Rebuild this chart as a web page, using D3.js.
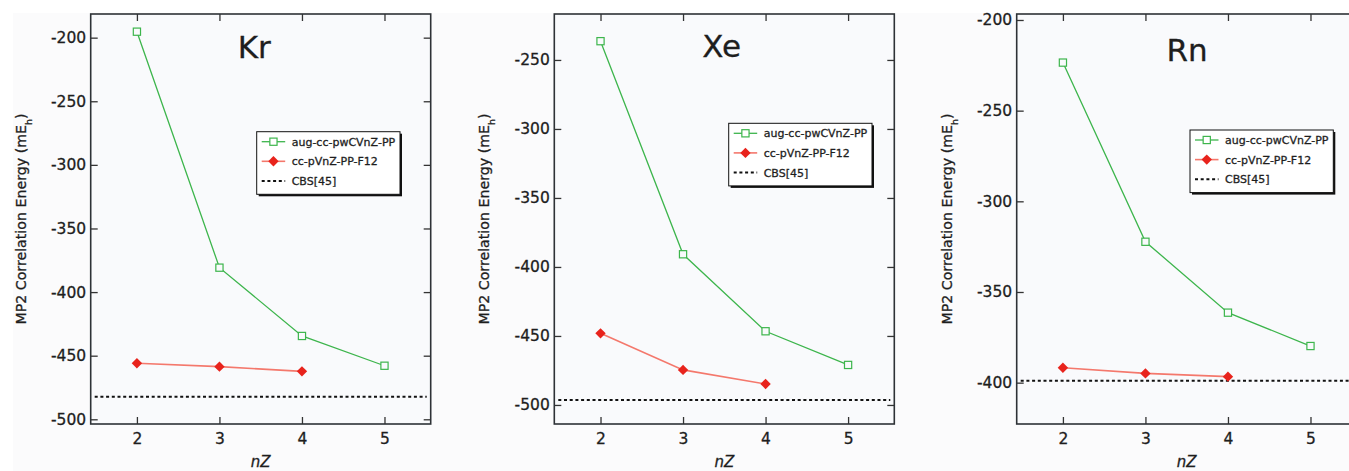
<!DOCTYPE html>
<html>
<head>
<meta charset="utf-8">
<script src="https://cdn.jsdelivr.net/npm/d3@7"></script>
<style>
  html, body { margin: 0; padding: 0; background: #ffffff; }
  svg { display: block; }
  text { font-family: "DejaVu Sans", "Liberation Sans", sans-serif; fill: #1e1e1e; }
</style>
</head>
<body>
<svg id="chart" width="1349" height="471"></svg>
<script>
// ---------------- data ----------------
const elements = ["Kr", "Xe", "Rn"];
const nZ = [2, 3, 4, 5];
const nZF12 = [2, 3, 4];
const xTicks = [2, 3, 4, 5];
const seriesNames = ["aug-cc-pwCVnZ-PP", "cc-pVnZ-PP-F12", "CBS[45]"];

const krAug = [-195.3, -380.8, -434.5, -457.9];
const krF12 = [-456.0, -458.6, -462.3];
const krCBS = -482.2;
const krTicks = [-500, -450, -400, -350, -300, -250, -200];

const xeAug = [-236.4, -390.8, -446.6, -471.0];
const xeF12 = [-448.1, -474.6, -484.8];
const xeCBS = -496.4;
const xeTicks = [-500, -450, -400, -350, -300, -250];

const rnAug = [-223.5, -322.3, -361.4, -379.8];
const rnF12 = [-391.8, -394.9, -396.7];
const rnCBS = -398.9;
const rnTicks = [-400, -350, -300, -250, -200];

// ---------------- layout ----------------
const W = 1349, H = 471;
const plotTop = 14, plotBottom = 424, plotWidth = 340;
const xDomain = [1.44, 5.56];
const colors = { aug: "#3db54c", f12Line: "#f4786c", f12Mark: "#e8231c", cbs: "#111111" };

const panels = [
  { name: elements[0], left: 90.7, aug: krAug, f12: krF12, cbs: krCBS, ticks: krTicks,
    yDomain: [-503.7, -181.4], titleDX: 163.5, titleY: 57.7, legX: 166, legY: 131.7 },
  { name: elements[1], left: 554.3, aug: xeAug, f12: xeF12, cbs: xeCBS, ticks: xeTicks,
    yDomain: [-513.8, -216.7], titleDX: 167.4, titleY: 57.3, legX: 174.4, legY: 123.3 },
  { name: elements[2], left: 1016.7, aug: rnAug, f12: rnF12, cbs: rnCBS, ticks: rnTicks,
    yDomain: [-422.8, -196.7], titleDX: 170.3, titleY: 61, legX: 173.3, legY: 130 }
];

const svg = d3.select("#chart");
svg.append("rect").attr("x", 13).attr("y", 13).attr("width", W - 13).attr("height", H - 13)
  .attr("fill", "#fbfbfc");

const diamond = r => `M0,${-r}L${r},0L0,${r}L${-r},0Z`;
const thicken = sel => sel.attr("stroke", "#1e1e1e").attr("stroke-width", 0.3);

panels.forEach(p => {
  const x = d3.scaleLinear().domain(xDomain).range([p.left, p.left + plotWidth]);
  const y = d3.scaleLinear().domain(p.yDomain).range([plotBottom, plotTop]);
  const g = svg.append("g");

  // plot background
  g.append("rect").attr("x", x.range()[0]).attr("y", plotTop)
    .attr("width", plotWidth).attr("height", plotBottom - plotTop).attr("fill", "#f9fafc");

  // axes (inside ticks on all four sides)
  const axL = g.append("g").attr("transform", `translate(${x.range()[0]},0)`)
    .call(d3.axisLeft(y).tickValues(p.ticks).tickSize(-7).tickPadding(4.5).tickFormat(d => String(d)));
  const axR = g.append("g").attr("transform", `translate(${x.range()[1]},0)`)
    .call(d3.axisRight(y).tickValues(p.ticks).tickSize(-7).tickFormat(""));
  const axB = g.append("g").attr("transform", `translate(0,${plotBottom})`)
    .call(d3.axisBottom(x).tickValues(xTicks).tickSize(-7).tickPadding(9).tickFormat(d => String(d)));
  const axT = g.append("g").attr("transform", `translate(0,${plotTop})`)
    .call(d3.axisTop(x).tickValues(xTicks).tickSize(-7).tickFormat(""));
  [axL, axR, axB, axT].forEach(a => {
    a.select(".domain").remove();
    a.selectAll(".tick line").attr("stroke", "#333").attr("stroke-width", 1.3);
    a.selectAll(".tick text").style("font-family", "'DejaVu Sans', sans-serif")
      .style("font-size", "15.5px").attr("fill", "#1e1e1e").call(thicken);
  });

  // frame
  g.append("rect").attr("x", x.range()[0]).attr("y", plotTop)
    .attr("width", plotWidth).attr("height", plotBottom - plotTop)
    .attr("fill", "none").attr("stroke", "#2e3236").attr("stroke-width", 1.6);

  // CBS reference line
  g.append("line")
    .attr("x1", x(xDomain[0]) + 4).attr("x2", x(xDomain[1]) - 4)
    .attr("y1", y(p.cbs)).attr("y2", y(p.cbs))
    .attr("stroke", colors.cbs).attr("stroke-width", 2).attr("stroke-dasharray", "3,2.7");

  const line = d3.line().x(d => x(d[0])).y(d => y(d[1]));
  const augPts = nZ.map((n, i) => [n, p.aug[i]]);
  const f12Pts = nZF12.map((n, i) => [n, p.f12[i]]);

  // F12 series
  g.append("path").attr("d", line(f12Pts)).attr("fill", "none")
    .attr("stroke", colors.f12Line).attr("stroke-width", 1.6);
  g.selectAll(".f12m").data(f12Pts).join("path")
    .attr("transform", d => `translate(${x(d[0])},${y(d[1])})`)
    .attr("d", diamond(5.2)).attr("fill", colors.f12Mark);

  // aug series
  g.append("path").attr("d", line(augPts)).attr("fill", "none")
    .attr("stroke", colors.aug).attr("stroke-width", 1.3);
  g.selectAll(".augm").data(augPts).join("rect")
    .attr("x", d => x(d[0]) - 3.6).attr("y", d => y(d[1]) - 3.6)
    .attr("width", 7.2).attr("height", 7.2)
    .attr("fill", "#f9fafc").attr("stroke", colors.aug).attr("stroke-width", 1.2);

  // title
  g.append("text").attr("x", p.left + p.titleDX).attr("y", p.titleY)
    .attr("text-anchor", "middle").style("font-size", "31px").text(p.name).call(thicken);

  // axis labels
  const yl = g.append("text")
    .attr("transform", `translate(${p.left - 65},${(plotTop + plotBottom) / 2}) rotate(-90)`)
    .attr("text-anchor", "middle").style("font-size", "14.2px").call(thicken);
  yl.append("tspan").text("MP2 Correlation Energy (mE");
  yl.append("tspan").attr("baseline-shift", "sub").style("font-size", "9.5px").text("h");
  yl.append("tspan").text(")");

  g.append("text").attr("x", p.left + plotWidth / 2).attr("y", 466.5)
    .attr("text-anchor", "middle").style("font-size", "15px").style("font-style", "italic")
    .text("nZ").call(thicken);

  // legend
  const lx = p.left + p.legX, ly = p.legY, lw = 143.3, lh = 62.6;
  const lg = g.append("g");
  lg.append("rect").attr("x", lx + 2).attr("y", ly + 2).attr("width", lw).attr("height", lh).attr("fill", "#111");
  lg.append("rect").attr("x", lx).attr("y", ly).attr("width", lw).attr("height", lh)
    .attr("fill", "#ffffff").attr("stroke", "#111").attr("stroke-width", 1);
  const rows = [10, 29.6, 49.3];
  const sx1 = lx + 5, sx2 = lx + 28.5, sxm = (sx1 + sx2) / 2;
  lg.append("line").attr("x1", sx1).attr("x2", sx2).attr("y1", ly + rows[0]).attr("y2", ly + rows[0])
    .attr("stroke", colors.aug).attr("stroke-width", 1.3);
  lg.append("rect").attr("x", sxm - 3.6).attr("y", ly + rows[0] - 3.6).attr("width", 7.2).attr("height", 7.2)
    .attr("fill", "#fff").attr("stroke", colors.aug).attr("stroke-width", 1.2);
  lg.append("line").attr("x1", sx1).attr("x2", sx2).attr("y1", ly + rows[1]).attr("y2", ly + rows[1])
    .attr("stroke", colors.f12Line).attr("stroke-width", 1.6);
  lg.append("path").attr("transform", `translate(${sxm},${ly + rows[1]})`).attr("d", diamond(5.2))
    .attr("fill", colors.f12Mark);
  lg.append("line").attr("x1", sx1).attr("x2", sx2).attr("y1", ly + rows[2]).attr("y2", ly + rows[2])
    .attr("stroke", colors.cbs).attr("stroke-width", 2).attr("stroke-dasharray", "3,2.7");
  seriesNames.forEach((s, i) => {
    lg.append("text").attr("x", lx + 35).attr("y", ly + rows[i]).attr("dy", "0.36em")
      .style("font-size", "11px").text(s).call(thicken);
  });
});
</script>
</body>
</html>
